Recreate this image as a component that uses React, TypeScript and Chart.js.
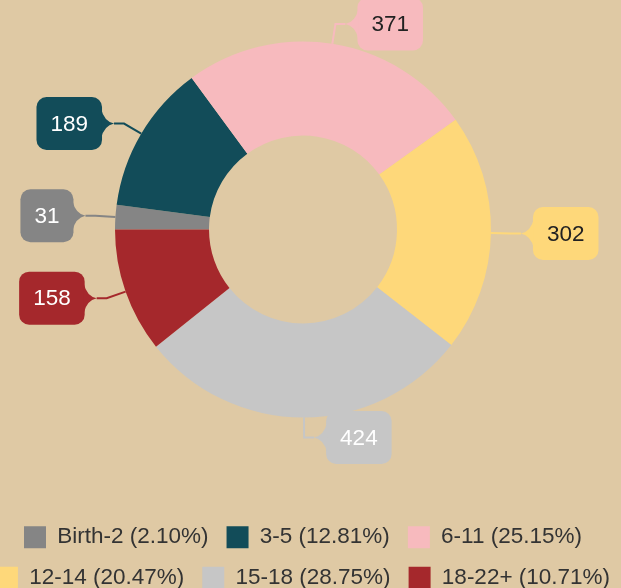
import React, { useEffect, useRef } from 'react';
import { Chart, registerables } from 'chart.js';

Chart.register(...registerables);

const categories = ['Birth-2', '3-5', '6-11', '12-14', '15-18', '18-22+'];
const values = [31, 189, 371, 302, 424, 158];
const colors = ['#858585', '#124c59', '#f7babe', '#fed87a', '#c6c6c6', '#a5282c'];
const labelTextColors = ['#ffffff', '#ffffff', '#222222', '#222222', '#ffffff', '#ffffff'];

const BG = '#dfc9a4';
const FONT = "'Liberation Sans', Arial, sans-serif";
const total = values.reduce((s, v) => s + v, 0);

const calloutPlugin = {
  id: 'callouts',
  afterDatasetsDraw(chart: any) {
    const ctx = chart.ctx as CanvasRenderingContext2D;
    const meta = chart.getDatasetMeta(0);
    meta.data.forEach((arc: any, i: number) => {
      const { x, y, startAngle, endAngle, outerRadius } = arc.getProps(
        ['x', 'y', 'startAngle', 'endAngle', 'outerRadius'],
        true
      );
      const a = (startAngle + endAngle) / 2;
      const cos = Math.cos(a);
      const sin = Math.sin(a);
      const p0x = x + outerRadius * cos;
      const p0y = y + outerRadius * sin;
      const ex = x + (outerRadius + 20) * cos;
      const ey = y + (outerRadius + 20) * sin;
      const dir = cos >= 0 ? 1 : -1;
      const tipX = ex + dir * 10;
      const ptr = 12;
      ctx.save();
      ctx.font = `22.5px ${FONT}`;
      const text = String(values[i]);
      const tw = ctx.measureText(text).width;
      const bw = tw + 28;
      const bh = 53;
      const bx = dir > 0 ? tipX + ptr : tipX - ptr - bw;
      const by = ey - bh / 2;

      ctx.strokeStyle = colors[i];
      ctx.lineWidth = 2;
      ctx.beginPath();
      ctx.moveTo(p0x, p0y);
      ctx.lineTo(ex, ey);
      ctx.lineTo(tipX, ey);
      ctx.stroke();

      ctx.fillStyle = colors[i];
      ctx.beginPath();
      (ctx as any).roundRect(bx, by, bw, bh, 10);
      ctx.fill();

      const edgeX = dir > 0 ? bx + 1 : bx + bw - 1;
      ctx.beginPath();
      ctx.moveTo(edgeX, ey - 15);
      ctx.quadraticCurveTo(edgeX - dir * 3, ey - 2, tipX, ey);
      ctx.quadraticCurveTo(edgeX - dir * 3, ey + 2, edgeX, ey + 15);
      ctx.closePath();
      ctx.fill();

      ctx.fillStyle = labelTextColors[i];
      ctx.textAlign = 'center';
      ctx.textBaseline = 'middle';
      ctx.fillText(text, bx + bw / 2, ey + 1);
      ctx.restore();
    });
  },
};

export default function App() {
  const ref = useRef<HTMLCanvasElement | null>(null);

  useEffect(() => {
    if (!ref.current) return;
    const chart = new Chart(ref.current, {
      type: 'doughnut',
      data: {
        labels: categories,
        datasets: [
          {
            data: values,
            backgroundColor: colors,
            borderWidth: 0,
            hoverOffset: 0,
          },
        ],
      },
      options: {
        responsive: false,
        maintainAspectRatio: false,
        devicePixelRatio: 1,
        animation: false,
        rotation: -90,
        radius: 188,
        cutout: '50%',
        layout: { padding: 0 },
        plugins: {
          tooltip: { enabled: false },
          legend: {
            position: 'bottom',
            labels: {
              boxWidth: 22,
              boxHeight: 22,
              padding: 18,
              color: '#333333',
              font: { size: 22.5, family: FONT },
              generateLabels: () =>
                categories.map((c, i) => ({
                  text: `${c} (${((values[i] / total) * 100).toFixed(2)}%)`,
                  fillStyle: colors[i],
                  strokeStyle: colors[i],
                  lineWidth: 0,
                  hidden: false,
                  index: i,
                  fontColor: '#333333',
                })),
            },
          },
        },
      } as any,
      plugins: [calloutPlugin],
    });
    return () => chart.destroy();
  }, []);

  return (
    <div style={{ position: 'fixed', left: 0, top: 0, width: '100vw', height: '100vh', background: BG, overflow: 'hidden' }}>
      <canvas
        ref={ref}
        width={680}
        height={648}
        style={{ position: 'absolute', left: -37, top: -49, width: 680, height: 648 }}
      />
    </div>
  );
}
